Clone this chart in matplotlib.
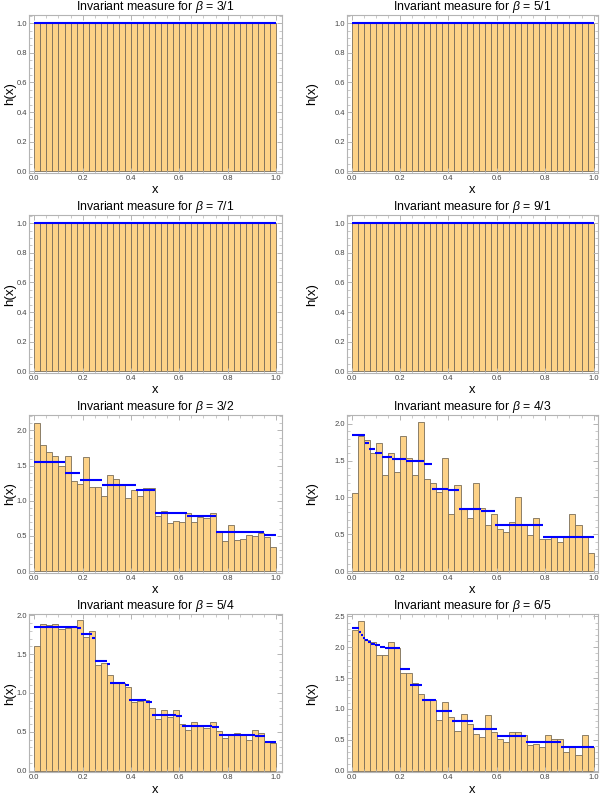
import numpy as np
import matplotlib
matplotlib.use("Agg")
import matplotlib.pyplot as plt
from matplotlib.ticker import MultipleLocator

plt.rcParams['font.family'] = ['Liberation Sans', 'DejaVu Sans']
plt.rcParams['mathtext.fontset'] = 'custom'
plt.rcParams['mathtext.it'] = 'Liberation Sans:italic'
plt.rcParams['mathtext.rm'] = 'Liberation Sans'

# bin heights (40 bins on [0,1])
h_3_1 = [1.0] * 40
h_5_1 = [1.0] * 40
h_7_1 = [1.0] * 40
h_9_1 = [1.0] * 40

h_3_2 = [2.11, 1.80, 1.69, 1.64, 1.50, 1.63, 1.28, 1.24, 1.62, 1.19,
         1.20, 1.07, 1.37, 1.31, 1.23, 1.04, 1.15, 1.07, 1.18, 1.18,
         0.79, 0.86, 0.69, 0.71, 0.70, 0.83, 0.70, 0.77, 0.76, 0.82,
         0.55, 0.43, 0.66, 0.44, 0.46, 0.51, 0.50, 0.54, 0.49, 0.34]
h_4_3 = [1.06, 1.84, 1.78, 1.60, 1.74, 1.30, 1.60, 1.35, 1.83, 1.53,
         1.30, 2.03, 1.25, 1.20, 1.07, 1.54, 0.77, 1.17, 0.86, 0.72,
         1.20, 0.86, 0.63, 0.77, 0.57, 0.53, 0.67, 1.01, 0.62, 0.49,
         0.72, 0.43, 0.43, 0.46, 0.39, 0.46, 0.77, 0.63, 0.46, 0.25]
h_5_4 = [1.60, 1.89, 1.88, 1.89, 1.82, 1.84, 1.86, 1.94, 1.72, 1.80,
         1.36, 1.39, 1.23, 1.14, 1.13, 1.07, 0.88, 0.90, 0.91, 0.80,
         0.66, 0.78, 0.69, 0.78, 0.60, 0.52, 0.63, 0.57, 0.55, 0.63,
         0.51, 0.42, 0.46, 0.48, 0.47, 0.40, 0.52, 0.48, 0.37, 0.35]
h_6_5 = [2.28, 2.43, 2.12, 2.08, 1.87, 1.87, 2.08, 1.98, 1.58, 1.58,
         1.42, 1.24, 1.15, 1.15, 0.82, 1.11, 0.87, 0.65, 0.91, 0.76,
         0.59, 0.54, 0.90, 0.63, 0.52, 0.46, 0.62, 0.62, 0.57, 0.41,
         0.43, 0.38, 0.57, 0.52, 0.52, 0.30, 0.38, 0.26, 0.57, 0.38]

# exact density (blue steps): breakpoints and levels
br_int = [0.0, 1.0]
lv_int = [1.0]

br_3_2 = [0.0, 0.125, 0.1875, 0.2813, 0.4219, 0.5, 0.6328, 0.75, 0.9492, 1.0]
lv_3_2 = [1.55, 1.40, 1.29, 1.23, 1.16, 0.82, 0.78, 0.55, 0.52]

br_4_3 = [0.0, 0.0534, 0.0712, 0.0949, 0.1266, 0.1688, 0.225, 0.3, 0.3333,
          0.4, 0.4444, 0.5333, 0.5926, 0.7111, 0.7901, 0.888, 1.0]
lv_4_3 = [1.85, 1.74, 1.66, 1.60, 1.55, 1.52, 1.49, 1.46,
          1.12, 1.10, 0.84, 0.82, 0.63, 0.62, 0.47, 0.46]

br_5_4 = [0.0, 0.178, 0.192, 0.238, 0.25, 0.301, 0.314, 0.374, 0.392,
          0.464, 0.489, 0.585, 0.613, 0.736, 0.765, 0.912, 0.956, 1.0]
lv_5_4 = [1.85, 1.83, 1.76, 1.71, 1.41, 1.37, 1.13, 1.10, 0.91, 0.88,
          0.72, 0.70, 0.58, 0.56, 0.46, 0.45, 0.37]

br_6_5 = [0.0, 0.0324, 0.0389, 0.0467, 0.056, 0.0672, 0.0806, 0.0967, 0.1161,
          0.1393, 0.1672, 0.2006, 0.2407, 0.2889, 0.3467, 0.4167, 0.5, 0.6,
          0.72, 0.864, 1.0]
lv_6_5 = [2.31, 2.25, 2.20, 2.15, 2.11, 2.08, 2.05, 2.03, 2.01, 1.99,
          1.98, 1.65, 1.38, 1.15, 0.96, 0.81, 0.67, 0.56, 0.47, 0.39]

titles = ["3/1", "5/1", "7/1", "9/1", "3/2", "4/3", "5/4", "6/5"]
heights = [h_3_1, h_5_1, h_7_1, h_9_1, h_3_2, h_4_3, h_5_4, h_6_5]
breaks = [br_int, br_int, br_int, br_int, br_3_2, br_4_3, br_5_4, br_6_5]
levels = [lv_int, lv_int, lv_int, lv_int, lv_3_2, lv_4_3, lv_5_4, lv_6_5]
ylims = [(-0.011, 1.054), (-0.011, 1.054), (-0.011, 1.054), (-0.011, 1.054),
         (-0.024, 2.22), (-0.023, 2.12), (-0.022, 2.01), (-0.027, 2.53)]
ysteps = [0.2, 0.2, 0.2, 0.2, 0.5, 0.5, 0.5, 0.5]

fig = plt.figure(figsize=(6.0, 7.97), dpi=100)

bottoms = [0.7830, 0.5320, 0.2813, 0.0310]
lefts = [29 / 600, 347 / 600]
widths = [253 / 600, 251 / 600]
xlims = [(-0.022, 1.025), (-0.019, 1.018)]
ylab_x = [-0.05, -0.115]

frame_col = "#b4b4b4"
edges = np.linspace(0, 1, 41)

for i in range(8):
    r, c = i // 2, i % 2
    ax = fig.add_axes([lefts[c], bottoms[r], widths[c], 0.198])
    ax.bar(edges[:-1], heights[i], width=0.025, align="edge",
           color="#fdd287", edgecolor="#7a6d58", linewidth=0.6)
    b = breaks[i]
    ax.hlines(levels[i], b[:-1], b[1:], colors="#0000ff", linewidth=1.5, zorder=3)

    ax.set_xlim(*xlims[c])
    ax.set_ylim(*ylims[i])
    ax.xaxis.set_major_locator(MultipleLocator(0.2))
    ax.xaxis.set_minor_locator(MultipleLocator(0.05))
    ax.yaxis.set_major_locator(MultipleLocator(ysteps[i]))
    ax.yaxis.set_minor_locator(MultipleLocator(0.1 if ysteps[i] == 0.5 else 0.05))
    ax.yaxis.set_major_formatter(plt.FormatStrFormatter("%.1f"))
    ax.xaxis.set_major_formatter(plt.FormatStrFormatter("%.1f"))
    ax.tick_params(which="both", direction="in", top=True, right=True,
                   color=frame_col, labelsize=5.5, labelcolor="#444444", pad=1.5)
    ax.tick_params(which="major", length=3.5, width=0.7)
    ax.tick_params(which="minor", length=2, width=0.5)
    for s in ax.spines.values():
        s.set_color(frame_col)
        s.set_linewidth(0.8)

    ax.set_title(r"Invariant measure for $\beta$ = " + titles[i], fontsize=8.8, pad=0.4)
    ax.set_xlabel("x", fontsize=9.3)
    ax.set_ylabel("h(x)", fontsize=9.5)
    ax.xaxis.set_label_coords(0.5, -0.072)
    ax.yaxis.set_label_coords(ylab_x[c], 0.5)

plt.savefig("out.png", dpi=100)
